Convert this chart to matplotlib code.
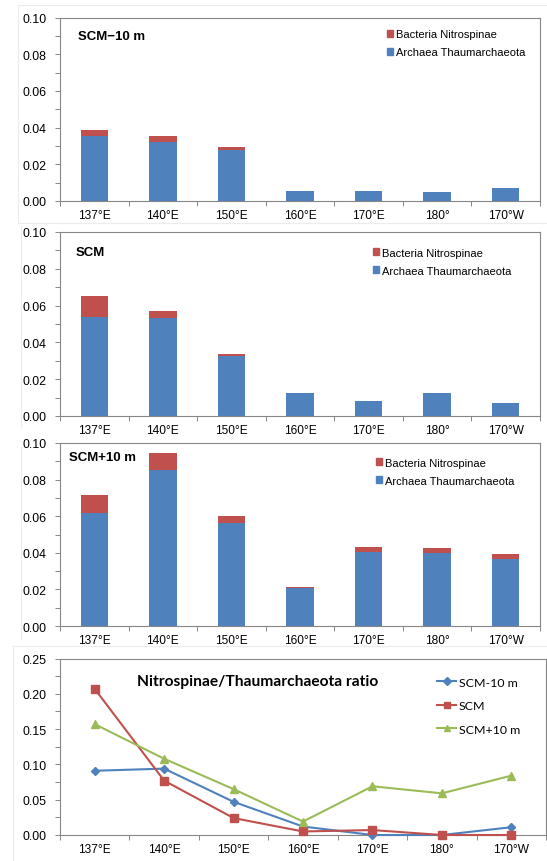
import numpy as np
import matplotlib
matplotlib.use("Agg")
import matplotlib.pyplot as plt
from matplotlib.patches import Patch, Rectangle
from matplotlib.lines import Line2D
from matplotlib.ticker import MultipleLocator, FormatStrFormatter

plt.rcParams["font.family"] = ["Liberation Sans", "DejaVu Sans"]

stations = ["137°E", "140°E", "150°E", "160°E", "170°E", "180°", "170°W"]

# abundance (stacked bars): archaea bottom, nitrospinae on top
archaea_m10 = [0.0355, 0.0322, 0.0279, 0.0053, 0.0054, 0.0048, 0.0071]
nitro_m10 = [0.0031, 0.0032, 0.0013, 0.0001, 0.0, 0.0, 0.0001]
archaea_scm = [0.0540, 0.0533, 0.0327, 0.0125, 0.0083, 0.0124, 0.0073]
nitro_scm = [0.0110, 0.0040, 0.0008, 0.0001, 0.0001, 0.0, 0.0]
archaea_p10 = [0.0617, 0.0854, 0.0564, 0.0210, 0.0403, 0.0400, 0.0365]
nitro_p10 = [0.0097, 0.0092, 0.0037, 0.0004, 0.0028, 0.0024, 0.0031]

# Nitrospinae/Thaumarchaeota ratio
ratio_m10 = [0.091, 0.094, 0.047, 0.012, 0.0, 0.0, 0.011]
ratio_scm = [0.207, 0.077, 0.024, 0.005, 0.007, 0.0, 0.0]
ratio_p10 = [0.157, 0.108, 0.065, 0.019, 0.069, 0.059, 0.084]

BLUE = "#4F81BD"
RED = "#C0504D"
GREEN = "#9BBB59"
AXIS_GRAY = "#868686"
FRAME = "#ececec"

W, H = 547, 862
fig = plt.figure(figsize=(W / 100, H / 100), dpi=100)


def px_axes(left, top, right, bottom):
    return fig.add_axes([left / W, (H - bottom) / H, (right - left) / W, (bottom - top) / H])


def px_line(x0, y0, x1, y1):
    fig.add_artist(Line2D([x0 / W, x1 / W], [1 - y0 / H, 1 - y1 / H],
                          transform=fig.transFigure, color=FRAME, linewidth=0.8))


def excel_style(ax, ymax, major, minor):
    x = np.arange(len(stations))
    ax.set_xlim(-0.5, len(stations) - 0.5)
    ax.set_ylim(0, ymax)
    ax.set_xticks(x)
    ax.set_xticklabels(stations)
    ax.set_xticks(np.arange(-0.5, len(stations), 1), minor=True)
    ax.tick_params(axis="x", which="major", length=0, pad=6, labelsize=8.6)
    ax.tick_params(axis="x", which="minor", length=3.5, width=0.7, color=AXIS_GRAY, direction="out")
    ax.yaxis.set_major_locator(MultipleLocator(major))
    ax.yaxis.set_minor_locator(MultipleLocator(minor))
    ax.yaxis.set_major_formatter(FormatStrFormatter("%.2f"))
    ax.tick_params(axis="y", which="both", length=3.5, width=0.7, color=AXIS_GRAY,
                   direction="out", labelsize=8.9, pad=6)
    for sp in ax.spines.values():
        sp.set_color(AXIS_GRAY)
        sp.set_linewidth(0.8)


# faint outer chart-area frames (Excel chart area borders)
fig.add_artist(Rectangle((18 / W, 1 - 224 / H), 600 / W, 218 / H, transform=fig.transFigure,
                         fill=False, edgecolor=FRAME, linewidth=0.8))
px_line(21, 226, 21, 428)
px_line(21, 448, 21, 640)
px_line(13, 647, 13, 862)
px_line(13, 647, 547, 647)

panels = [
    ("SCM\u221210 m", archaea_m10, nitro_m10, (60, 18.5, 540, 202), (78, 37), (0.681, 0.935)),
    ("SCM", archaea_scm, nitro_scm, (60, 233, 540, 417), (76, 253), (0.652, 0.915)),
    ("SCM+10 m", archaea_p10, nitro_p10, (60, 444, 540, 627), (69, 458), (0.658, 0.92)),
]

x = np.arange(len(stations))
for title, arch, nitro, box, tpos, lpos in panels:
    ax = px_axes(*box)
    ax.bar(x, arch, width=0.4, color=BLUE, zorder=2)
    ax.bar(x, nitro, width=0.4, bottom=arch, color=RED, zorder=2)
    excel_style(ax, 0.10, 0.02, 0.01)
    fig.text(tpos[0] / W, 1 - tpos[1] / H, title, fontsize=9.5, fontweight="bold", va="center")
    handles = [Patch(color=RED, label="Bacteria Nitrospinae"),
               Patch(color=BLUE, label="Archaea Thaumarchaeota")]
    ax.legend(handles=handles, loc="upper left", bbox_to_anchor=lpos, frameon=False,
              fontsize=8, handlelength=0.55, handleheight=0.55, handletextpad=0.25,
              labelspacing=0.72, borderaxespad=0, borderpad=0)

# ratio panel
ax4 = px_axes(60, 659.5, 546, 836)
ax4.plot(x, ratio_m10, color=BLUE, marker="D", markersize=4.5, linewidth=1.5,
         label="SCM-10 m", zorder=3, clip_on=False)
ax4.plot(x, ratio_scm, color=RED, marker="s", markersize=5.5, linewidth=1.5,
         label="SCM", zorder=3, clip_on=False)
ax4.plot(x, ratio_p10, color=GREEN, marker="^", markersize=6, linewidth=1.5,
         label="SCM+10 m", zorder=3, clip_on=False)
excel_style(ax4, 0.25, 0.05, 0.025)
fig.text(137 / W, 1 - 682 / H, "Nitrospinae/Thaumarchaeota ratio", fontsize=11.2,
         fontweight="bold", va="center", family=["Lato", "DejaVu Sans"])
ax4.legend(loc="upper left", bbox_to_anchor=(0.775, 0.898), frameon=False,
           prop={"family": ["Lato", "DejaVu Sans"], "size": 8.9},
           handlelength=1.6, handletextpad=0.2, labelspacing=1.02,
           borderaxespad=0, borderpad=0, markerscale=0.8)

fig.savefig("out.png", dpi=100)
